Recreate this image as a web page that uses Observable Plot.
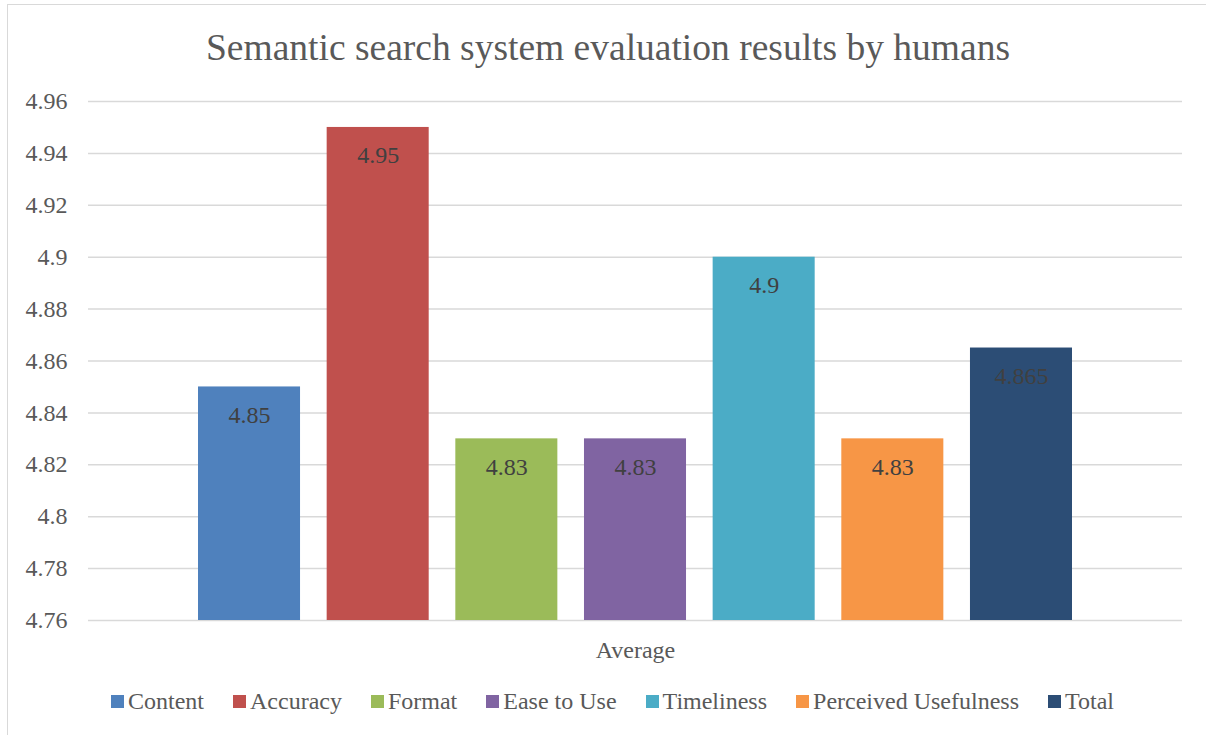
<!DOCTYPE html>
<html>
<head>
<meta charset="utf-8">
<script src="https://cdn.jsdelivr.net/npm/d3@7"></script>
<script src="https://cdn.jsdelivr.net/npm/@observablehq/plot@0.6"></script>
<style>
  html, body { margin: 0; padding: 0; background: #fff; overflow: hidden; }
  #wrap { position: relative; width: 1206px; height: 735px; font-family: "Liberation Serif", "DejaVu Serif", serif; color: #595959; }
  #border { position: absolute; left: 7px; top: 4px; width: 1220px; height: 760px; border: 1.5px solid #d9d9d9; box-sizing: border-box; }
  #title { position: absolute; left: 0; width: 1216px; top: 24px; text-align: center; font-size: 37.5px; line-height: 48px; white-space: nowrap; }
  #chart { position: absolute; left: 0; top: 0; }
  #legend { position: absolute; left: 111px; top: 686px; display: flex; align-items: center; font-size: 24px; line-height: 30px; white-space: nowrap; }
  .item { display: flex; align-items: center; margin-right: 29px; }
  .sw { width: 13px; height: 13px; margin-right: 4px; }
</style>
</head>
<body>
<div id="wrap">
  <div id="border"></div>
  <div id="chart"></div>
  <div id="title"></div>
  <div id="legend"></div>
</div>
<script>
const titleText = "Semantic search system evaluation results by humans";
const groupLabel = "Average";
const categories = ["Content", "Accuracy", "Format", "Ease to Use", "Timeliness", "Perceived Usefulness", "Total"];
const values = [4.85, 4.95, 4.83, 4.83, 4.9, 4.83, 4.865];
const colors = ["#4F81BD", "#C0504D", "#9BBB59", "#8064A2", "#4BACC6", "#F79646", "#2C4D75"];
const yTicks = [4.76, 4.78, 4.8, 4.82, 4.84, 4.86, 4.88, 4.9, 4.92, 4.94, 4.96];
const yMin = 4.76, yMax = 4.96;

const rows = categories.map((c, i) => ({ group: groupLabel, category: c, value: values[i] }));

document.getElementById("title").textContent = titleText;

const serif = "'Liberation Serif', 'DejaVu Serif', serif";
const chart = Plot.plot({
  width: 1206,
  height: 735,
  marginTop: 101,
  marginBottom: 115,
  marginLeft: 88,
  marginRight: 24,
  style: { fontFamily: serif, fontSize: "24px", color: "#595959", background: "transparent", overflow: "visible" },
  fx: { domain: [groupLabel], padding: 0, label: null, round: false },
  x: { domain: categories, paddingInner: 0.207, paddingOuter: 0.855, axis: null, round: false },
  y: { domain: [yMin, yMax], label: null },
  color: { domain: categories, range: colors },
  marks: [
    Plot.gridY(yTicks, { stroke: "#d9d9d9", strokeOpacity: 1, strokeWidth: 1.5 }),
    Plot.axisY(yTicks, { tickSize: 0, tickPadding: 21, tickFormat: d => String(+d.toFixed(2)), fontSize: 24, fontFamily: serif, fill: "#595959", label: null }),
    Plot.axisFx({ anchor: "bottom", tickSize: 0, tickPadding: 20, fontSize: 24, fontFamily: serif, fill: "#595959", label: null }),
    Plot.barY(rows, { fx: "group", x: "category", y1: () => yMin, y2: "value", fill: "category" }),
    Plot.text(rows, { fx: "group", x: "category", y: "value", text: d => String(d.value), dy: 28, fill: "#404040", fontSize: 24, fontFamily: serif })
  ]
});
document.getElementById("chart").appendChild(chart);

const legend = document.getElementById("legend");
categories.forEach((c, i) => {
  const item = document.createElement("div");
  item.className = "item";
  const sw = document.createElement("div");
  sw.className = "sw";
  sw.style.background = colors[i];
  const t = document.createElement("span");
  t.textContent = c;
  item.appendChild(sw);
  item.appendChild(t);
  legend.appendChild(item);
});
</script>
</body>
</html>
